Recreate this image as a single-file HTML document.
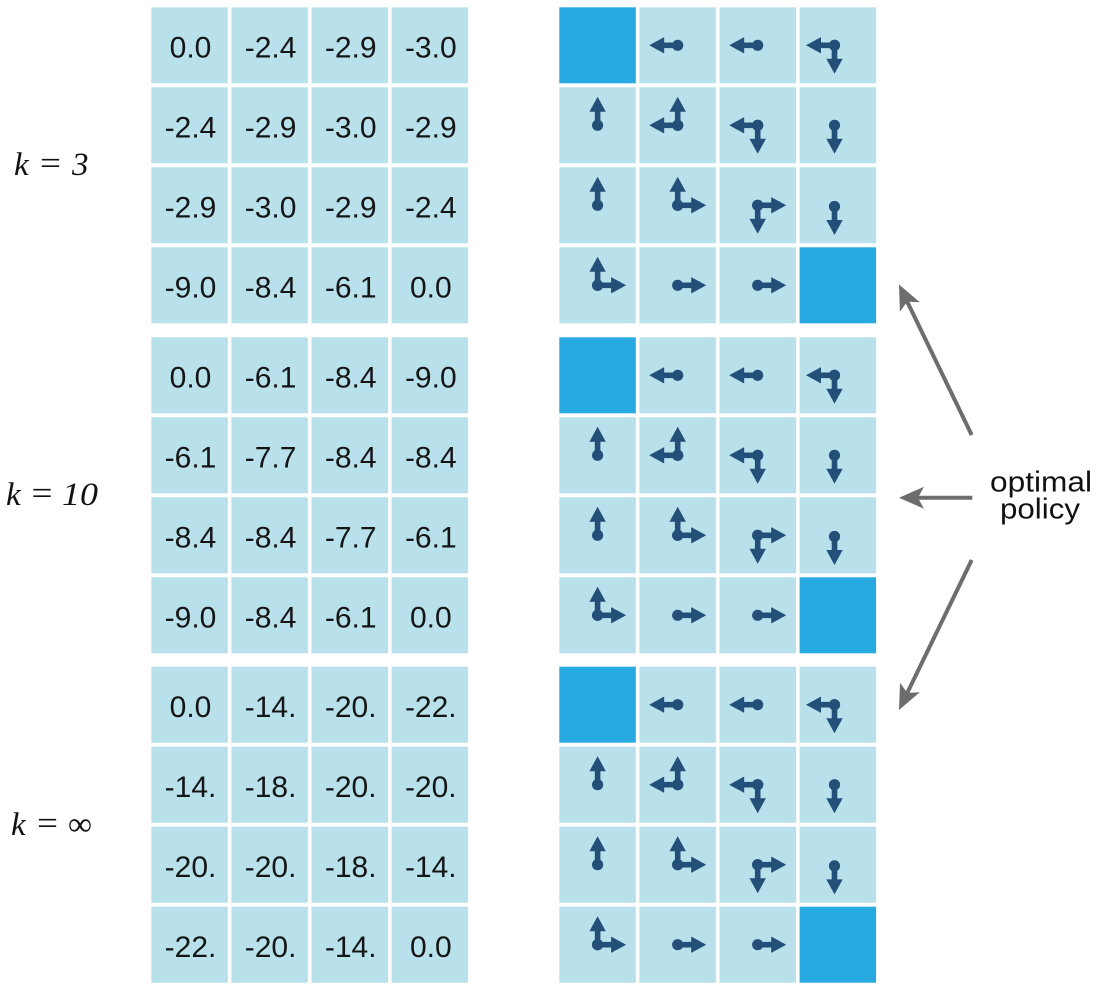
<!DOCTYPE html>
<html><head><meta charset="utf-8"><style>
html,body{margin:0;padding:0;background:#fff;}
svg{display:block;}
</style></head><body>
<svg width="1100" height="990" viewBox="0 0 1100 990" xmlns="http://www.w3.org/2000/svg">
<defs>
<g id="U"><circle r="5.6"/><rect x="-2.8" y="-15" width="5.6" height="15"/><polygon points="0,-28.5 -8.2,-13.5 8.2,-13.5"/></g>
<g id="D"><circle r="5.6"/><rect x="-2.8" y="0" width="5.6" height="15"/><polygon points="0,28.5 -8.2,13.5 8.2,13.5"/></g>
<g id="L"><circle r="5.6"/><rect x="-15" y="-2.8" width="15" height="5.6"/><polygon points="-28.5,0 -13.5,-8.2 -13.5,8.2"/></g>
<g id="R"><circle r="5.6"/><rect x="0" y="-2.8" width="15" height="5.6"/><polygon points="28.5,0 13.5,-8.2 13.5,8.2"/></g>
</defs>
<rect width="1100" height="990" fill="#fff"/>

<!-- left value grids -->
<g fill="#b8e1ec">
<rect x="151.3" y="7.3" width="76.5" height="76"/><rect x="231.4" y="7.3" width="76.5" height="76"/><rect x="311.5" y="7.3" width="76.5" height="76"/><rect x="391.6" y="7.3" width="76.5" height="76"/>
<rect x="151.3" y="87.3" width="76.5" height="76"/><rect x="231.4" y="87.3" width="76.5" height="76"/><rect x="311.5" y="87.3" width="76.5" height="76"/><rect x="391.6" y="87.3" width="76.5" height="76"/>
<rect x="151.3" y="167.3" width="76.5" height="76"/><rect x="231.4" y="167.3" width="76.5" height="76"/><rect x="311.5" y="167.3" width="76.5" height="76"/><rect x="391.6" y="167.3" width="76.5" height="76"/>
<rect x="151.3" y="247.3" width="76.5" height="76"/><rect x="231.4" y="247.3" width="76.5" height="76"/><rect x="311.5" y="247.3" width="76.5" height="76"/><rect x="391.6" y="247.3" width="76.5" height="76"/>
<rect x="151.3" y="337.3" width="76.5" height="76"/><rect x="231.4" y="337.3" width="76.5" height="76"/><rect x="311.5" y="337.3" width="76.5" height="76"/><rect x="391.6" y="337.3" width="76.5" height="76"/>
<rect x="151.3" y="417.3" width="76.5" height="76"/><rect x="231.4" y="417.3" width="76.5" height="76"/><rect x="311.5" y="417.3" width="76.5" height="76"/><rect x="391.6" y="417.3" width="76.5" height="76"/>
<rect x="151.3" y="497.3" width="76.5" height="76"/><rect x="231.4" y="497.3" width="76.5" height="76"/><rect x="311.5" y="497.3" width="76.5" height="76"/><rect x="391.6" y="497.3" width="76.5" height="76"/>
<rect x="151.3" y="577.3" width="76.5" height="76"/><rect x="231.4" y="577.3" width="76.5" height="76"/><rect x="311.5" y="577.3" width="76.5" height="76"/><rect x="391.6" y="577.3" width="76.5" height="76"/>
<rect x="151.3" y="666.7" width="76.5" height="76"/><rect x="231.4" y="666.7" width="76.5" height="76"/><rect x="311.5" y="666.7" width="76.5" height="76"/><rect x="391.6" y="666.7" width="76.5" height="76"/>
<rect x="151.3" y="746.7" width="76.5" height="76"/><rect x="231.4" y="746.7" width="76.5" height="76"/><rect x="311.5" y="746.7" width="76.5" height="76"/><rect x="391.6" y="746.7" width="76.5" height="76"/>
<rect x="151.3" y="826.7" width="76.5" height="76"/><rect x="231.4" y="826.7" width="76.5" height="76"/><rect x="311.5" y="826.7" width="76.5" height="76"/><rect x="391.6" y="826.7" width="76.5" height="76"/>
<rect x="151.3" y="906.7" width="76.5" height="76"/><rect x="231.4" y="906.7" width="76.5" height="76"/><rect x="311.5" y="906.7" width="76.5" height="76"/><rect x="391.6" y="906.7" width="76.5" height="76"/>
</g>

<!-- right policy grids -->
<g fill="#b8e1ec">
<rect x="639.4" y="7.3" width="76.5" height="76"/><rect x="719.5" y="7.3" width="76.5" height="76"/><rect x="799.6" y="7.3" width="76.5" height="76"/>
<rect x="559.3" y="87.3" width="76.5" height="76"/><rect x="639.4" y="87.3" width="76.5" height="76"/><rect x="719.5" y="87.3" width="76.5" height="76"/><rect x="799.6" y="87.3" width="76.5" height="76"/>
<rect x="559.3" y="167.3" width="76.5" height="76"/><rect x="639.4" y="167.3" width="76.5" height="76"/><rect x="719.5" y="167.3" width="76.5" height="76"/><rect x="799.6" y="167.3" width="76.5" height="76"/>
<rect x="559.3" y="247.3" width="76.5" height="76"/><rect x="639.4" y="247.3" width="76.5" height="76"/><rect x="719.5" y="247.3" width="76.5" height="76"/>

<rect x="639.4" y="337.3" width="76.5" height="76"/><rect x="719.5" y="337.3" width="76.5" height="76"/><rect x="799.6" y="337.3" width="76.5" height="76"/>
<rect x="559.3" y="417.3" width="76.5" height="76"/><rect x="639.4" y="417.3" width="76.5" height="76"/><rect x="719.5" y="417.3" width="76.5" height="76"/><rect x="799.6" y="417.3" width="76.5" height="76"/>
<rect x="559.3" y="497.3" width="76.5" height="76"/><rect x="639.4" y="497.3" width="76.5" height="76"/><rect x="719.5" y="497.3" width="76.5" height="76"/><rect x="799.6" y="497.3" width="76.5" height="76"/>
<rect x="559.3" y="577.3" width="76.5" height="76"/><rect x="639.4" y="577.3" width="76.5" height="76"/><rect x="719.5" y="577.3" width="76.5" height="76"/>

<rect x="639.4" y="666.7" width="76.5" height="76"/><rect x="719.5" y="666.7" width="76.5" height="76"/><rect x="799.6" y="666.7" width="76.5" height="76"/>
<rect x="559.3" y="746.7" width="76.5" height="76"/><rect x="639.4" y="746.7" width="76.5" height="76"/><rect x="719.5" y="746.7" width="76.5" height="76"/><rect x="799.6" y="746.7" width="76.5" height="76"/>
<rect x="559.3" y="826.7" width="76.5" height="76"/><rect x="639.4" y="826.7" width="76.5" height="76"/><rect x="719.5" y="826.7" width="76.5" height="76"/><rect x="799.6" y="826.7" width="76.5" height="76"/>
<rect x="559.3" y="906.7" width="76.5" height="76"/><rect x="639.4" y="906.7" width="76.5" height="76"/><rect x="719.5" y="906.7" width="76.5" height="76"/>
</g>
<g fill="#27a9e1">
<rect x="559.3" y="7.3" width="76.5" height="76"/><rect x="799.6" y="247.3" width="76.5" height="76"/>
<rect x="559.3" y="337.3" width="76.5" height="76"/><rect x="799.6" y="577.3" width="76.5" height="76"/>
<rect x="559.3" y="666.7" width="76.5" height="76"/><rect x="799.6" y="906.7" width="76.5" height="76"/>
</g>

<!-- numbers -->
<g font-family="'Liberation Sans', sans-serif" font-size="30" fill="#151515" text-anchor="middle">
<text x="190.5" y="57.5">0.0</text><text x="270.6" y="57.5">-2.4</text><text x="350.7" y="57.5">-2.9</text><text x="430.8" y="57.5">-3.0</text>
<text x="190.5" y="137.5">-2.4</text><text x="270.6" y="137.5">-2.9</text><text x="350.7" y="137.5">-3.0</text><text x="430.8" y="137.5">-2.9</text>
<text x="190.5" y="217.5">-2.9</text><text x="270.6" y="217.5">-3.0</text><text x="350.7" y="217.5">-2.9</text><text x="430.8" y="217.5">-2.4</text>
<text x="190.5" y="297.5">-9.0</text><text x="270.6" y="297.5">-8.4</text><text x="350.7" y="297.5">-6.1</text><text x="430.8" y="297.5">0.0</text>

<text x="190.5" y="387.5">0.0</text><text x="270.6" y="387.5">-6.1</text><text x="350.7" y="387.5">-8.4</text><text x="430.8" y="387.5">-9.0</text>
<text x="190.5" y="467.5">-6.1</text><text x="270.6" y="467.5">-7.7</text><text x="350.7" y="467.5">-8.4</text><text x="430.8" y="467.5">-8.4</text>
<text x="190.5" y="547.5">-8.4</text><text x="270.6" y="547.5">-8.4</text><text x="350.7" y="547.5">-7.7</text><text x="430.8" y="547.5">-6.1</text>
<text x="190.5" y="627.5">-9.0</text><text x="270.6" y="627.5">-8.4</text><text x="350.7" y="627.5">-6.1</text><text x="430.8" y="627.5">0.0</text>

<text x="190.5" y="717">0.0</text><text x="270.6" y="717">-14.</text><text x="350.7" y="717">-20.</text><text x="430.8" y="717">-22.</text>
<text x="190.5" y="797">-14.</text><text x="270.6" y="797">-18.</text><text x="350.7" y="797">-20.</text><text x="430.8" y="797">-20.</text>
<text x="190.5" y="877">-20.</text><text x="270.6" y="877">-20.</text><text x="350.7" y="877">-18.</text><text x="430.8" y="877">-14.</text>
<text x="190.5" y="957">-22.</text><text x="270.6" y="957">-20.</text><text x="350.7" y="957">-14.</text><text x="430.8" y="957">0.0</text>
</g>

<!-- policy arrows -->
<g fill="#244f78">
<use href="#L" x="677.7" y="45.3"/><use href="#L" x="757.7" y="45.3"/><use href="#L" x="834.5" y="45.3"/><use href="#D" x="834.5" y="45.3"/>
<use href="#U" x="597.6" y="125.3"/><use href="#L" x="677.7" y="125.3"/><use href="#U" x="677.7" y="125.3"/><use href="#L" x="757.7" y="125.3"/><use href="#D" x="757.7" y="125.3"/><use href="#D" x="834.5" y="125.3"/>
<use href="#U" x="597.6" y="205.3"/><use href="#U" x="677.7" y="205.3"/><use href="#R" x="677.7" y="205.3"/><use href="#R" x="757.7" y="205.3"/><use href="#D" x="757.7" y="205.3"/><use href="#D" x="834.5" y="206.5"/>
<use href="#U" x="597.6" y="285.3"/><use href="#R" x="597.6" y="285.3"/><use href="#R" x="677.7" y="285.3"/><use href="#R" x="757.7" y="285.3"/>
<use href="#L" x="677.7" y="375.3"/><use href="#L" x="757.7" y="375.3"/><use href="#L" x="834.5" y="375.3"/><use href="#D" x="834.5" y="375.3"/>
<use href="#U" x="597.6" y="455.3"/><use href="#L" x="677.7" y="455.3"/><use href="#U" x="677.7" y="455.3"/><use href="#L" x="757.7" y="455.3"/><use href="#D" x="757.7" y="455.3"/><use href="#D" x="834.5" y="455.3"/>
<use href="#U" x="597.6" y="535.3"/><use href="#U" x="677.7" y="535.3"/><use href="#R" x="677.7" y="535.3"/><use href="#R" x="757.7" y="535.3"/><use href="#D" x="757.7" y="535.3"/><use href="#D" x="834.5" y="536.5"/>
<use href="#U" x="597.6" y="615.3"/><use href="#R" x="597.6" y="615.3"/><use href="#R" x="677.7" y="615.3"/><use href="#R" x="757.7" y="615.3"/>
<use href="#L" x="677.7" y="704.7"/><use href="#L" x="757.7" y="704.7"/><use href="#L" x="834.5" y="704.7"/><use href="#D" x="834.5" y="704.7"/>
<use href="#U" x="597.6" y="784.7"/><use href="#L" x="677.7" y="784.7"/><use href="#U" x="677.7" y="784.7"/><use href="#L" x="757.7" y="784.7"/><use href="#D" x="757.7" y="784.7"/><use href="#D" x="834.5" y="784.7"/>
<use href="#U" x="597.6" y="864.7"/><use href="#U" x="677.7" y="864.7"/><use href="#R" x="677.7" y="864.7"/><use href="#R" x="757.7" y="864.7"/><use href="#D" x="757.7" y="864.7"/><use href="#D" x="834.5" y="865.9"/>
<use href="#U" x="597.6" y="944.7"/><use href="#R" x="597.6" y="944.7"/><use href="#R" x="677.7" y="944.7"/><use href="#R" x="757.7" y="944.7"/>
</g>

<!-- k labels -->
<g font-family="'Liberation Serif', serif" font-size="33" fill="#111">
<text x="14" y="175" font-style="italic">k</text>
<text x="40" y="174" textLength="21" lengthAdjust="spacingAndGlyphs">=</text>
<text x="72" y="175" font-style="italic">3</text>

<text x="6" y="505" font-style="italic">k</text>
<text x="31.5" y="504" textLength="21" lengthAdjust="spacingAndGlyphs">=</text>
<text x="62" y="505" font-style="italic" textLength="36" lengthAdjust="spacingAndGlyphs">10</text>

<text x="11" y="835" font-style="italic">k</text>
<text x="37" y="834" textLength="21" lengthAdjust="spacingAndGlyphs">=</text>
<text x="68" y="835" textLength="24" lengthAdjust="spacingAndGlyphs">∞</text>
</g>

<!-- optimal policy -->
<g font-family="'Liberation Sans', sans-serif" font-size="29" fill="#111">
<text x="990" y="491.5" textLength="102" lengthAdjust="spacingAndGlyphs">optimal</text>
<text x="1000" y="518.5" textLength="80" lengthAdjust="spacingAndGlyphs">policy</text>
</g>

<!-- gray pointer arrows -->
<g stroke="#6d6d6d" stroke-width="4" fill="none">
<line x1="971.7" y1="435" x2="907.2" y2="301.6"/>
<line x1="972.3" y1="497.7" x2="918" y2="497.7"/>
<line x1="971.7" y1="560" x2="907.3" y2="692.9"/>
</g>
<g fill="#6d6d6d">
<polygon points="899,284.5 919.8,302.2 907.2,301.6 899.9,311.8"/>
<polygon points="899,497.7 924,486.7 918,497.7 924,508.7"/>
<polygon points="899,710 919.8,692.3 907.3,692.9 900,682.7"/>
</g>
</svg>
</body></html>
